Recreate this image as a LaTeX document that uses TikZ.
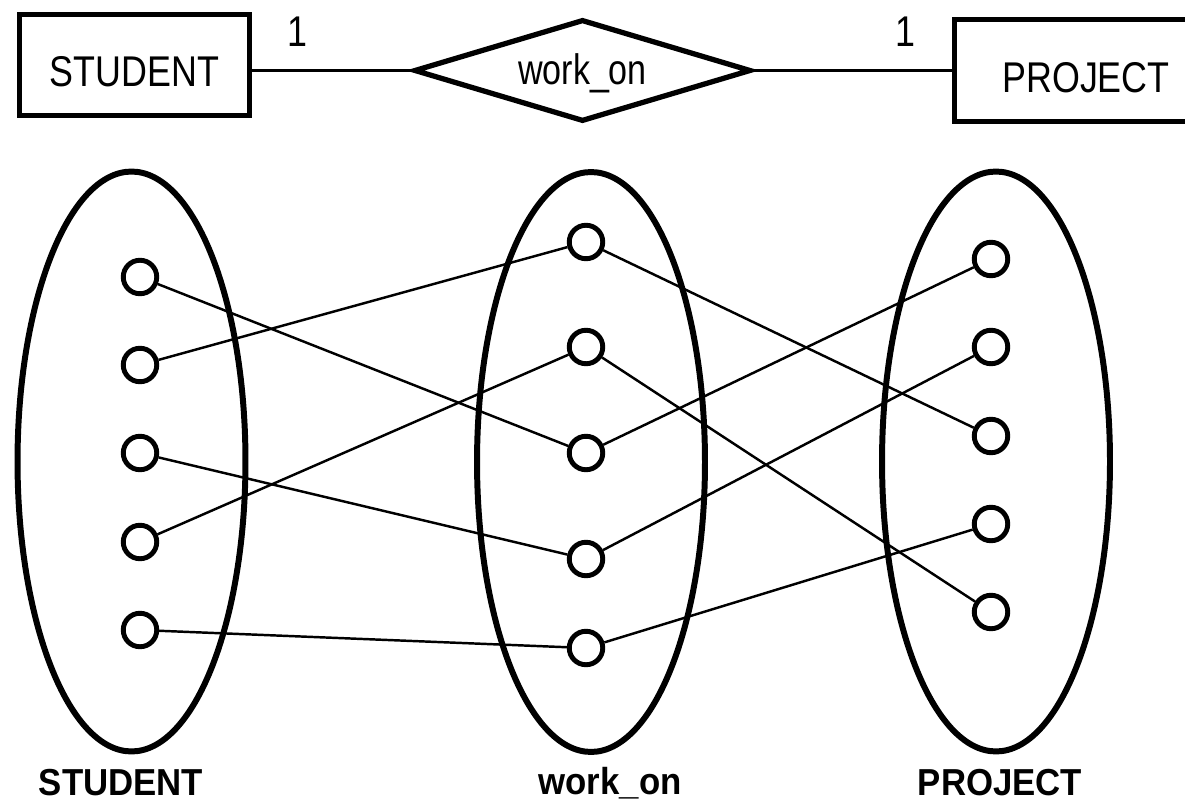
\documentclass[tikz,border=0pt]{standalone}
\usepackage{fontspec}
\usepackage{graphicx}
\setmainfont{Liberation Sans}
\usetikzlibrary{shapes.geometric}
% vertically stretched lettering used throughout the drawing
\newcommand\stretchtxt[2]{\scalebox{1}[#1]{#2}}
\begin{document}
\begin{tikzpicture}[x=0.02cm,y=-0.02cm,
  entity/.style={draw, rectangle, line width=3pt, inner sep=0pt,
    font=\fontsize{20.4}{24}\selectfont, text height=0.87cm, text depth=0pt},
  relation/.style={draw, diamond, line width=3pt, inner sep=0pt,
    minimum width=6.74cm, minimum height=2.04cm},
  reltext/.style={font=\fontsize{19.4}{23}\selectfont, inner sep=0pt, anchor=base},
  card/.style={font=\fontsize{20.4}{24}\selectfont, inner sep=0pt},
  instset/.style={draw, ellipse, line width=3.4pt, inner sep=0pt,
    minimum width=4.56cm, minimum height=11.6cm},
  inst/.style={draw, circle, line width=2.8pt, inner sep=0pt, minimum size=0.67cm},
  setname/.style={font=\fontsize{19.8}{24}\selectfont\bfseries, inner sep=0pt},
  erline/.style={line width=1.3pt},
  link/.style={line width=1.4pt}]
\useasboundingbox (0,0) rectangle (1185,803);

% ---- ER notation ----
\node[entity, minimum width=4.6cm, minimum height=2.02cm] (stu) at (134.5,65) {\stretchtxt{1.2}{STUDENT}};
\node[relation] (rel) at (582.5,70.5) {};
\node[reltext] (reltxt) at (582.5,85) {\stretchtxt{1.25}{work\_on}};
\node[entity, minimum width=5.26cm, minimum height=2.04cm] (prj) at (1086,70.5) {\stretchtxt{1.2}{PROJECT}};
\draw[erline] (rel.west) -- (rel.west -| stu.east);
\draw[erline] (rel.east) -- (rel.east -| prj.west);
\node[card] (c1) at (297,32) {\stretchtxt{1.2}{1}};
\node[card] (c2) at (905,32) {\stretchtxt{1.2}{1}};

% ---- instance sets ----
\node[instset] (sset) at (131.5,461.5) {};
\node[instset] (wset) at (591,462) {};
\node[instset] (pset) at (996,461.5) {};

\foreach \i/\y in {1/277,2/365,3/453,4/542,5/630}
  \node[inst] (s\i) at (140,\y) {};
\foreach \i/\y in {1/242,2/347,3/453,4/559,5/648}
  \node[inst] (w\i) at (586,\y) {};
\foreach \i/\y in {1/259,2/347,3/436,4/524,5/612}
  \node[inst] (p\i) at (991,\y) {};

% student -> work_on
\draw[link] (s1) -- (w3);
\draw[link] (s2) -- (w1);
\draw[link] (s3) -- (w4);
\draw[link] (s4) -- (w2);
\draw[link] (s5) -- (w5);
% work_on -> project
\draw[link] (w1) -- (p3);
\draw[link] (w2) -- (p5);
\draw[link] (w3) -- (p1);
\draw[link] (w4) -- (p2);
\draw[link] (w5) -- (p4);

% set names
\node[setname] (lsset) at (121,783) {\stretchtxt{1.08}{STUDENT}};
\node[setname] (lwset) at (610,783) {\stretchtxt{1.08}{work\_on}};
\node[setname] (lpset) at (1000,783) {\stretchtxt{1.08}{PROJECT}};
\end{tikzpicture}
\end{document}
